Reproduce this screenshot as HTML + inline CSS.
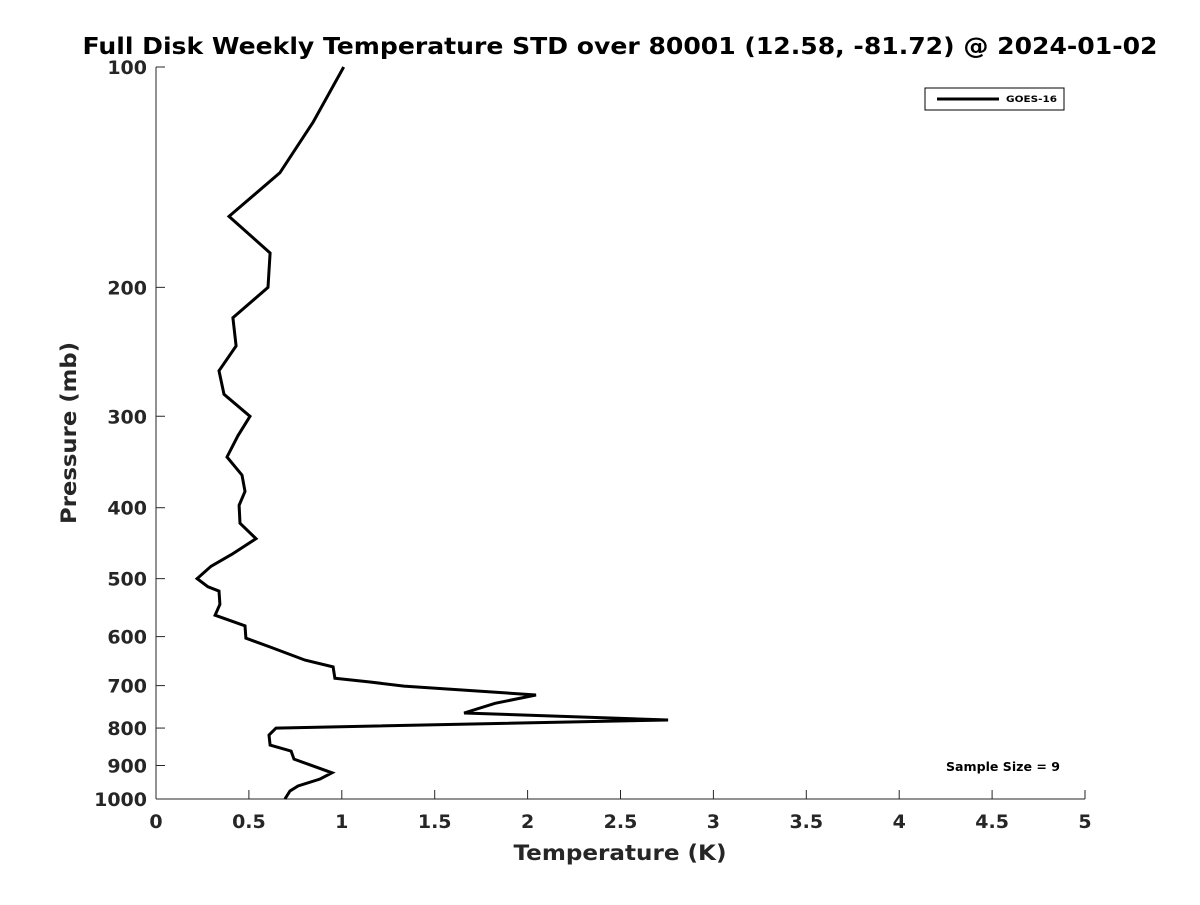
<!DOCTYPE html>
<html><head><meta charset="utf-8"><style>
body{margin:0;background:#fff;}
svg text{font-family:"DejaVu Sans","Liberation Sans",sans-serif;font-weight:bold;fill:#262626;}
</style></head><body>
<svg id="chart" width="1200" height="900">
<rect width="1200" height="900" fill="#fff"/>
<text x="620" y="54" font-size="23" text-anchor="middle" textLength="1075" lengthAdjust="spacingAndGlyphs" style="fill:#000">Full Disk Weekly Temperature STD over 80001 (12.58, -81.72) @ 2024-01-02</text>
<g id="axes"></g>
<path id="line" fill="none" stroke="#000" stroke-width="3" stroke-linejoin="miter"/>
<g>
<rect x="925" y="88" width="139" height="22" fill="#fff" stroke="#000" stroke-width="1"/>
<line x1="937" y1="99" x2="999" y2="99" stroke="#000" stroke-width="3"/>
<text x="1006" y="102" font-size="9" textLength="51" lengthAdjust="spacingAndGlyphs" style="fill:#000">GOES-16</text>
</g>
<text x="1003" y="771" font-size="12" text-anchor="middle" textLength="114" lengthAdjust="spacingAndGlyphs" style="fill:#000">Sample Size = 9</text>
<text x="620" y="860" font-size="21" text-anchor="middle" textLength="213" lengthAdjust="spacingAndGlyphs">Temperature (K)</text>
<text transform="translate(76,433) rotate(-90)" font-size="21" text-anchor="middle" textLength="182" lengthAdjust="spacingAndGlyphs">Pressure (mb)</text>
</svg>
<script>
const temps=[1.01,0.845,0.667,0.393,0.614,0.603,0.414,0.431,0.339,0.366,0.506,0.441,0.382,0.463,0.479,0.447,0.452,0.538,0.409,0.296,0.221,0.280,0.339,0.344,0.318,0.479,0.484,0.614,0.802,0.953,0.963,1.152,1.335,2.045,1.825,1.658,2.756,0.646,0.608,0.614,0.727,0.743,0.947,0.883,0.764,0.721,0.694];
const pressures=[100,119,139.5,160,179.5,200,220,240.5,260,280,300,319,341,361,380,397,420,441,463,481,500,513,520,542,561,580,603,620,646,660,684,692,701,721,740,763,780,800,818,844,860,882,921,939,960,975,1000];
const xTicks=[0,0.5,1,1.5,2,2.5,3,3.5,4,4.5,5];
const xTickLabels=["0","0.5","1","1.5","2","2.5","3","3.5","4","4.5","5"];
const yTicks=[100,200,300,400,500,600,700,800,900,1000];
const L=156,R=1085,T=67,B=799;
const xS=v=>L+(v-0)/(5-0)*(R-L);
const yS=p=>T+(Math.log10(p)-2)/(1)*(B-T);
const NS="http://www.w3.org/2000/svg";
const ax=document.getElementById('axes');
function mk(tag,attrs,txt){const e=document.createElementNS(NS,tag);for(const k in attrs)e.setAttribute(k,attrs[k]);if(txt!==undefined)e.textContent=txt;ax.appendChild(e);return e;}
let e=mk('line',{x1:L,y1:B,x2:R,y2:B,stroke:'#262626','stroke-width':1});


e=mk('line',{x1:L,y1:T,x2:L,y2:B,stroke:'#262626','stroke-width':1});


xTicks.forEach((v,i)=>{const x=xS(v);
 mk('line',{x1:x,y1:B,x2:x,y2:B-9,stroke:'#262626'});
 const t=mk('text',{x:x,y:B+29,'font-size':19,'text-anchor':'middle'},xTickLabels[i]);
 
 });
yTicks.forEach(p=>{const y=yS(p);
 mk('line',{x1:L,y1:y,x2:L+9,y2:y,stroke:'#262626'});
 const t=mk('text',{x:L-9,y:y+7,'font-size':19,'text-anchor':'end'},String(p));
 
 });
document.getElementById('line').setAttribute('d',temps.map((t,i)=>(i?'L':'M')+xS(t).toFixed(1)+','+yS(pressures[i]).toFixed(1)).join(''));
</script>
</body></html>
